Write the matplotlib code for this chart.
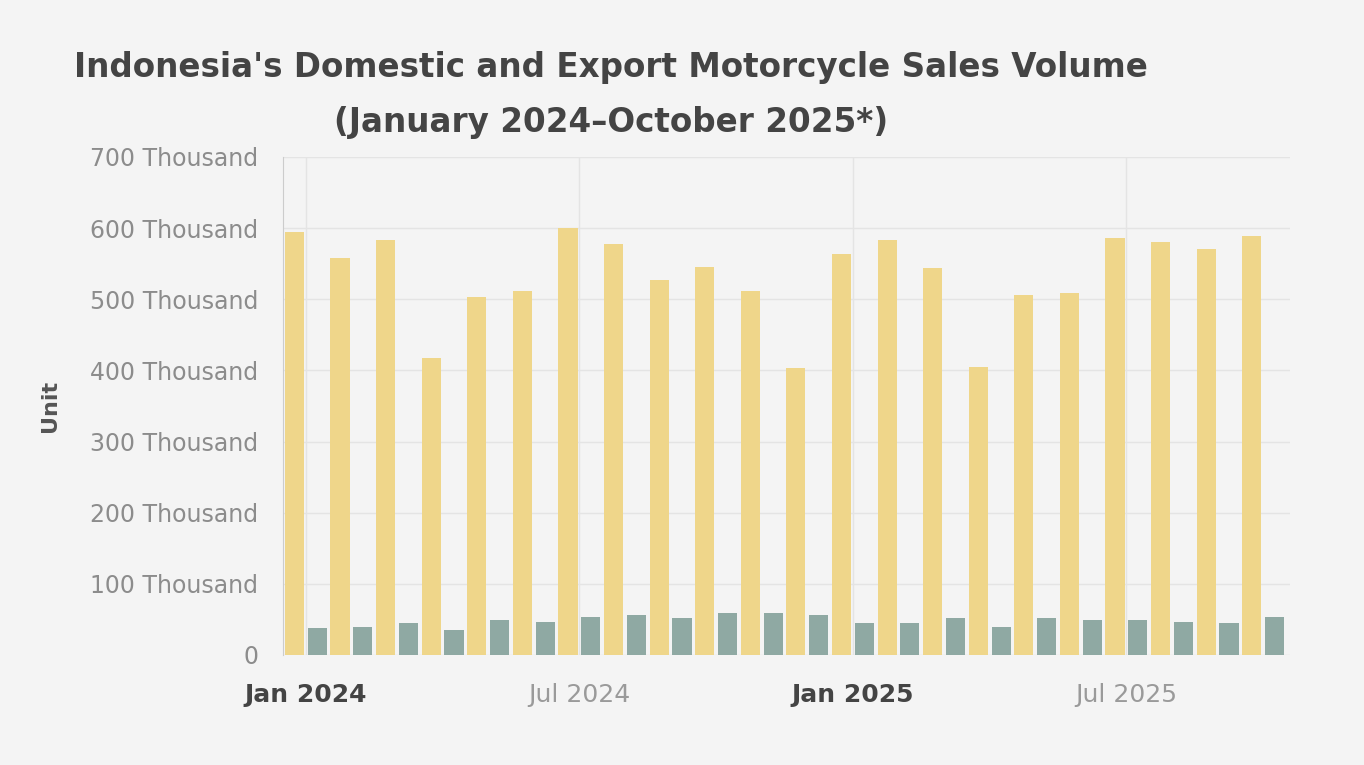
import numpy as np
import matplotlib.pyplot as plt

# %% data (units)
months = ['Jan 2024', 'Feb 2024', 'Mar 2024', 'Apr 2024', 'May 2024', 'Jun 2024',
          'Jul 2024', 'Aug 2024', 'Sep 2024', 'Oct 2024', 'Nov 2024', 'Dec 2024',
          'Jan 2025', 'Feb 2025', 'Mar 2025', 'Apr 2025', 'May 2025', 'Jun 2025',
          'Jul 2025', 'Aug 2025', 'Sep 2025', 'Oct 2025']
domestic = [595000, 558000, 584000, 418000, 503000, 511000, 600000, 578000, 527000, 546000, 511000,
            404000, 563000, 584000, 544000, 405000, 506000, 509000, 586000, 581000, 570000, 589000]
export = [38000, 40000, 45000, 35000, 49000, 46000, 53000, 56000, 52000, 59000, 59000,
          56000, 45000, 45000, 52000, 40000, 52000, 49000, 49000, 46000, 45000, 53000]
ytick_vals = [0, 100000, 200000, 300000, 400000, 500000, 600000, 700000]
ytick_text = ['0'] + ['%d Thousand' % (v // 1000) for v in ytick_vals[1:]]
xtick_idx = [0, 6, 12, 18]

# %% plot
bg = '#f4f4f4'
fig = plt.figure(figsize=(13.64, 7.65), dpi=100, facecolor=bg)
ax = fig.add_axes([0.2075, 0.1438, 0.738, 0.651], facecolor=bg)

x = np.arange(len(months))
w = 0.42
ax.bar(x - 0.25, domestic, width=w, color='#efd68a', zorder=3)
ax.bar(x + 0.25, export, width=w, color='#8fa9a3', zorder=3)

ax.set_xlim(-0.5, len(months) - 0.42)
ax.set_ylim(0, 700000)
ax.set_yticks(ytick_vals)
ax.set_yticklabels(ytick_text, fontsize=17, color='#8c8c8c')
ax.set_xticks(xtick_idx)
ax.set_xticklabels([months[i] for i in xtick_idx], fontsize=18)
for i, lab in enumerate(ax.get_xticklabels()):
    if months[xtick_idx[i]].startswith('Jan'):
        lab.set_fontweight('bold')
        lab.set_color('#444444')
    else:
        lab.set_color('#9a9a9a')
ax.tick_params(length=0)
ax.tick_params(axis='y', pad=18)
ax.tick_params(axis='x', pad=20)

ax.grid(True, color='#e4e4e4', linewidth=1, zorder=0)
for s in ['top', 'right', 'bottom']:
    ax.spines[s].set_visible(False)
ax.spines['left'].set_color('#cccccc')

ax.set_ylabel('Unit', fontsize=16, fontweight='bold', color='#555555', labelpad=21)

fig.text(0.448, 0.912, "Indonesia's Domestic and Export Motorcycle Sales Volume",
         ha='center', va='center', fontsize=23.5, fontweight='bold', color='#444444')
fig.text(0.448, 0.84, "(January 2024\u2013October 2025*)",
         ha='center', va='center', fontsize=23.5, fontweight='bold', color='#444444')

fig.savefig('out.png', dpi=100, facecolor=bg)
